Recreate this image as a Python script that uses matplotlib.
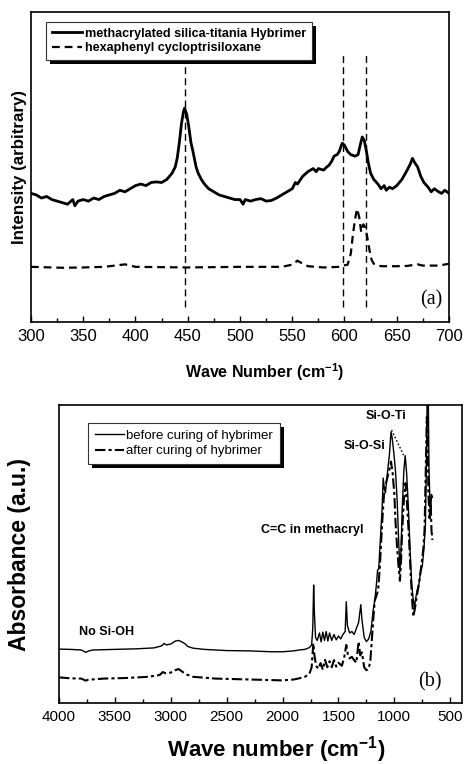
import matplotlib
matplotlib.use("Agg")
import matplotlib.pyplot as plt
from matplotlib.ticker import MultipleLocator
from matplotlib.patches import Rectangle
from matplotlib.transforms import IdentityTransform

plt.rcParams['font.family'] = ['Liberation Sans', 'DejaVu Sans']
plt.rcParams['mathtext.default'] = 'regular'

# ---- panel (a): Raman spectra ----
raman_x = [300, 305, 310, 315, 320, 325, 330, 335, 340, 342, 345, 350, 355, 360, 365, 370, 375, 380,
           385, 390, 395, 400, 405, 410, 415, 420, 425, 430, 435, 438, 440, 442, 444, 446, 447, 449,
           451, 453, 455, 458, 460, 463, 466, 470, 475, 480, 485, 490, 495, 500, 503, 505, 510, 515,
           520, 525, 530, 535, 540, 545, 550, 553, 555, 560, 565, 570, 573, 575, 580, 583, 585, 588,
           590, 593, 595, 597, 598, 600, 603, 606, 610, 613, 615, 617, 619, 621, 623, 625, 628, 632,
           635, 638, 640, 643, 646, 650, 655, 660, 663, 665, 667, 670, 673, 676, 680, 683, 686, 690,
           693, 696, 700]
hybrimer = [41.5, 41, 40, 40.5, 39.5, 39, 38.5, 38, 39.5, 37.5, 39, 39.5, 39, 40, 39.5, 40.5, 41, 41.5,
            42.5, 42, 43, 44, 44.5, 44, 45, 45.2, 45, 46, 48, 50, 53, 58, 64, 68, 69, 67,
            63, 58, 55, 50, 48, 46, 44.5, 43, 42, 41, 40.5, 40, 39.5, 39.5, 38, 39.5, 39, 39.5,
            39.8, 39, 39.2, 40, 41, 42, 43, 45, 44.5, 47, 48.5, 49.5, 48.5, 49.5, 49, 50, 50.5, 52,
            53.5, 54, 55, 57, 57.7, 57, 55, 54, 53.5, 54, 57, 59.7, 58.5, 55, 51, 48, 46, 44.5,
            43, 44, 42.5, 43.5, 43, 44, 46, 49, 51, 52.8, 51.5, 50, 47, 45, 43.5, 42, 43, 42,
            41.5, 42.5, 41.5]

siloxane_x = [300, 330, 350, 370, 380, 390, 395, 400, 450, 500, 540, 550, 555, 558, 565, 580, 595, 600,
              603, 606, 608, 610, 612, 614, 616, 618, 620, 622, 624, 626, 628, 635, 650, 660, 670, 675,
              690, 700]
siloxane = [17.8, 17.5, 17.6, 17.8, 18.2, 18.6, 18.2, 17.8, 17.6, 17.8, 17.8, 18.5, 19.8, 19.2, 18, 17.6, 17.8, 18.3,
            18.5, 22, 28, 33, 36.5, 34, 29, 31.5, 30.5, 27, 23, 20, 18.8, 18, 18, 18.1, 18.6, 18.2,
            18.2, 18.8]

marker_lines = [447, 599, 621]

# ---- panel (b): FTIR spectra ----
ir_before_x = [4000, 3900, 3800, 3760, 3740, 3700, 3500, 3300, 3150, 3080, 3060, 3040, 3000, 2960, 2930, 2900,
               2870, 2850, 2800, 2700, 2500, 2300, 2100, 2000, 1900, 1850, 1800, 1760, 1740, 1730, 1722, 1715,
               1705, 1690, 1670, 1655, 1640, 1625, 1610, 1595, 1580, 1560, 1540, 1520, 1500, 1480, 1460, 1440,
               1430, 1420, 1400, 1380, 1360, 1340, 1320, 1300, 1290, 1270, 1250, 1230, 1210, 1190, 1175, 1160,
               1150, 1140, 1125, 1110, 1100, 1090, 1080, 1060, 1045, 1030, 1020, 1005, 990, 975, 962, 950,
               940, 930, 915, 903, 890, 875, 860, 845, 832, 820, 810, 795, 780, 765, 750, 735,
               722, 712, 705, 698, 690, 682, 675, 668, 660]
ir_before = [18.1, 18.0, 17.8, 17.0, 17.4, 17.8, 18.0, 18.2, 18.5, 19.2, 20.0, 19.5, 19.8, 20.8, 21.0, 20.5,
             19.8, 19.0, 18.4, 18.0, 17.6, 17.5, 17.2, 17.2, 17.5, 17.8, 18.0, 18.6, 19.5, 25, 39.6, 30,
             22, 21, 23.5, 20.5, 23.8, 21, 24, 20.8, 23.5, 21, 23, 21.2, 22.5, 21.5, 23, 24,
             34, 26, 23.5, 24, 23, 25, 27, 33, 28, 22, 20.6, 21.5, 24, 31, 34.5, 40,
             44.6, 45, 55, 65, 75.5, 72, 70.5, 78, 83, 91, 89, 84, 78, 68, 55, 44,
             52, 65, 78, 83, 77, 66, 52, 40, 35, 32, 35, 38, 40, 44, 46, 52,
             60, 85, 108, 108, 78, 68, 64, 70, 69]

ir_after_x = [4000, 3900, 3800, 3760, 3740, 3600, 3400, 3200, 3100, 3070, 3050, 3000, 2960, 2930, 2900, 2860,
              2800, 2600, 2400, 2200, 2000, 1900, 1850, 1800, 1760, 1740, 1725, 1715, 1700, 1680, 1660, 1640,
              1620, 1600, 1580, 1560, 1540, 1520, 1500, 1470, 1450, 1430, 1415, 1400, 1380, 1360, 1340, 1320,
              1305, 1290, 1270, 1250, 1230, 1215, 1200, 1185, 1175, 1160, 1145, 1130, 1110, 1090, 1060, 1040,
              1030, 1015, 1000, 990, 975, 960, 950, 940, 930, 915, 900, 885, 870, 855, 840, 830,
              815, 800, 780, 760, 740, 730, 718, 710, 703, 695, 685, 675, 668, 660]
ir_after = [8.6, 8.3, 8.2, 7.5, 7.8, 8.2, 8.4, 8.8, 9.4, 10.4, 10.0, 10.2, 11.0, 11.4, 10.6, 9.6,
            8.8, 8.2, 8.0, 7.8, 7.6, 7.9, 8.3, 8.8, 9.8, 12, 20, 16, 12.5, 11.5, 13.4, 11.2,
            14.5, 12, 14, 12, 14.4, 12.2, 13.5, 12.5, 15, 19.5, 16, 15, 15.5, 14.4, 13.5, 20.6,
            16, 17, 12, 11, 11.5, 14, 22, 30, 34.5, 36, 38, 45.7, 60, 71.5, 76, 79,
            81, 77, 70, 61, 52, 44.6, 41, 48, 58, 68, 73.8, 66, 56, 44, 34, 29,
            32, 35.7, 40, 45.7, 52, 58, 80, 96, 90, 70, 62, 67, 58, 54.7]

fig = plt.figure(figsize=(4.66, 7.64), dpi=100)


def add_shadow(ax, leg, off=4):
    # heavy black drop shadow behind the legend box
    fig.canvas.draw()
    bb = leg.get_window_extent()
    r = Rectangle((bb.x0 + off, bb.y0 - off), bb.width, bb.height, transform=IdentityTransform(),
                  facecolor='black', edgecolor='none', zorder=leg.get_zorder() - 0.1, clip_on=False)
    ax.add_artist(r)


# panel a
ax1 = fig.add_axes([0.0665, 0.5785, 0.897, 0.4058])
ax1.plot(raman_x, hybrimer, color='black', lw=2.0, label='methacrylated silica-titania Hybrimer')
ax1.plot(siloxane_x, siloxane, color='black', lw=1.6, ls=(0, (3.5, 2.2)), label='hexaphenyl cycloptrisiloxane')
for xv in marker_lines:
    ax1.plot([xv, xv], [5, 86], color='black', lw=1.0, ls=(0, (5, 3)))
ax1.set_xlim(300, 700)
ax1.set_ylim(0, 100)
ax1.set_yticks([])
ax1.xaxis.set_major_locator(MultipleLocator(50))
ax1.xaxis.set_minor_locator(MultipleLocator(25))
ax1.tick_params(axis='x', which='major', direction='in', length=4, width=1, labelsize=12, pad=5)
ax1.tick_params(axis='x', which='minor', direction='in', length=3, width=1)
for s in ax1.spines.values():
    s.set_linewidth(1.2)
ax1.set_xlabel('Wave Number (cm$^{-1}$)', fontsize=11.5, fontweight='bold')
ax1.xaxis.set_label_coords(0.56, -0.163)
ax1.xaxis.label.set_va('center')
ax1.set_ylabel('Intensity (arbitrary)', fontsize=12.2, fontweight='bold', labelpad=3)
leg1 = ax1.legend(loc='upper left', bbox_to_anchor=(0.036, 0.968), borderaxespad=0,
                  prop={'weight': 'bold', 'size': 9.1}, handlelength=2.4, handletextpad=0.2,
                  labelspacing=0.2, fancybox=False, edgecolor='#333333', framealpha=1,
                  borderpad=0.45)
leg1.get_frame().set_linewidth(0.8)
leg1.set_zorder(5)
ax1.text(0.983, 0.072, '(a)', transform=ax1.transAxes, ha='right', va='center',
         fontsize=14.5, family=['Liberation Serif', 'DejaVu Serif'])

# panel b
ax2 = fig.add_axes([0.1266, 0.0798, 0.8648, 0.3901])
ax2.plot(ir_before_x, ir_before, color='black', lw=1.0, label='before curing of hybrimer')
ax2.plot(ir_after_x, ir_after, color='black', lw=1.5, ls=(0, (5, 1.5, 1.5, 1.5)), label='after curing of hybrimer')
ax2.plot([1025, 915], [91.6, 83], color='black', lw=1.0, ls=(0, (1.2, 1.5)))
ax2.set_xlim(4000, 395)
ax2.set_ylim(0, 100)
ax2.set_yticks([])
ax2.xaxis.set_major_locator(MultipleLocator(500))
ax2.xaxis.set_minor_locator(MultipleLocator(250))
ax2.tick_params(axis='x', which='major', direction='in', length=4, width=1, labelsize=11, pad=5)
ax2.tick_params(axis='x', which='minor', direction='in', length=3, width=1)
for s in ax2.spines.values():
    s.set_linewidth(1.2)
ax2.set_xlabel('Wave number (cm$^{-1}$)', fontsize=16, fontweight='bold')
ax2.xaxis.set_label_coords(0.54, -0.155)
ax2.xaxis.label.set_va('center')
ax2.set_ylabel('Absorbance (a.u.)', fontsize=16.5, fontweight='bold', labelpad=20)
leg2 = ax2.legend(loc='upper left', bbox_to_anchor=(0.072, 0.94), borderaxespad=0,
                  prop={'size': 9.5}, handlelength=2.2, handletextpad=0.2,
                  labelspacing=0.25, fancybox=False, edgecolor='#333333', framealpha=1,
                  borderpad=0.5)
leg2.get_frame().set_linewidth(0.8)
leg2.set_zorder(5)
ax2.text(1261, 96.3, 'Si-O-Ti', ha='left', va='center', fontsize=9, fontweight='bold')
ax2.text(1458, 86.2, 'Si-O-Si', ha='left', va='center', fontsize=9, fontweight='bold')
ax2.text(2192, 58, 'C=C in methacryl', ha='left', va='center', fontsize=9, fontweight='bold')
ax2.text(3821, 23.8, 'No Si-OH', ha='left', va='center', fontsize=9, fontweight='bold')
ax2.text(0.95, 0.07, '(b)', transform=ax2.transAxes, ha='right', va='center',
         fontsize=14.5, family=['Liberation Serif', 'DejaVu Serif'])

add_shadow(ax1, leg1, 4)
add_shadow(ax2, leg2, 4)

fig.savefig('out.png', dpi=100)
